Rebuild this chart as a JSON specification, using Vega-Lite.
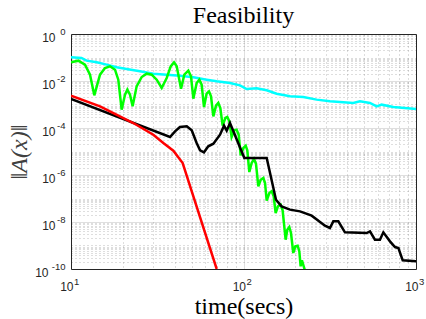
{
 "$schema": "https://vega.github.io/schema/vega-lite/v6.json",
 "width": 345,
 "height": 235,
 "autosize": {"type": "none"},
 "padding": {"left": 71, "top": 34, "right": 10, "bottom": 50},
 "background": "white",
 "title": {"text": "Feasibility", "font": "Liberation Serif", "fontSize": 24, "fontWeight": "normal", "color": "#000000", "baseline": "bottom", "offset": 4, "dy": 30, "anchor": "middle"},
 "config": {"view": {"stroke": "#262626", "strokeWidth": 1}},
 "datasets": {
  "pts": [
   {"s":"c","t":10,"v":0.1016},{"s":"c","t":11.5,"v":0.0953},{"s":"c","t":12.3,"v":0.0733},{"s":"c","t":14.1,"v":0.0623},{"s":"c","t":16.1,"v":0.0496},{"s":"c","t":18.4,"v":0.0382},{"s":"c","t":21.0,"v":0.0324},{"s":"c","t":25.1,"v":0.0258},{"s":"c","t":30.0,"v":0.0205},{"s":"c","t":35.9,"v":0.0186},{"s":"c","t":42.8,"v":0.0169},{"s":"c","t":51.2,"v":0.0143},{"s":"c","t":61.1,"v":0.0114},{"s":"c","t":69.9,"v":0.00968},{"s":"c","t":83.5,"v":0.00822},{"s":"c","t":95.4,"v":0.00654},{"s":"c","t":104.3,"v":0.00457},{"s":"c","t":119.2,"v":0.00488},{"s":"c","t":136.3,"v":0.00401},{"s":"c","t":155.6,"v":0.00289},{"s":"c","t":186,"v":0.00223},{"s":"c","t":222.4,"v":0.00209},{"s":"c","t":265.5,"v":0.00161},{"s":"c","t":317,"v":0.00136},{"s":"c","t":379,"v":0.00124},{"s":"c","t":433,"v":0.00116},{"s":"c","t":473,"v":0.00136},{"s":"c","t":541,"v":0.00116},{"s":"c","t":591,"v":0.000836},{"s":"c","t":632,"v":0.000984},{"s":"c","t":739,"v":0.000783},{"s":"c","t":1000,"v":0.000644},
   {"s":"g","t":10,"v":0.0623},{"s":"g","t":11.03,"v":0.0733},{"s":"g","t":12.05,"v":0.0496},{"s":"g","t":12.89,"v":0.0186},{"s":"g","t":13.65,"v":0.00245},{"s":"g","t":14.73,"v":0.0186},{"s":"g","t":15.74,"v":0.0357},{"s":"g","t":16.83,"v":0.0421},{"s":"g","t":17.99,"v":0.0303},{"s":"g","t":18.8,"v":0.0114},{"s":"g","t":19.66,"v":0.000603},{"s":"g","t":20.56,"v":0.00262},{"s":"g","t":21.22,"v":0.00428},{"s":"g","t":21.98,"v":0.00262},{"s":"g","t":22.76,"v":0.000836},{"s":"g","t":24.02,"v":0.00593},{"s":"g","t":25.69,"v":0.0148},{"s":"g","t":27.46,"v":0.0205},{"s":"g","t":29.36,"v":0.0186},{"s":"g","t":31.39,"v":0.0114},{"s":"g","t":33.55,"v":0.00504},{"s":"g","t":35.87,"v":0.0134},{"s":"g","t":37.84,"v":0.0421},{"s":"g","t":39.55,"v":0.0623},{"s":"g","t":41.0,"v":0.0421},{"s":"g","t":43.44,"v":0.00472},{"s":"g","t":45.39,"v":0.0186},{"s":"g","t":47.88,"v":0.0275},{"s":"g","t":49.62,"v":0.0158},{"s":"g","t":51.2,"v":0.00177},{"s":"g","t":53.53,"v":0.00822},{"s":"g","t":55.46,"v":0.0114},{"s":"g","t":57.2,"v":0.00698},{"s":"g","t":59.02,"v":0.000783},{"s":"g","t":61.11,"v":0.00289},{"s":"g","t":63.1,"v":0.00363},{"s":"g","t":64.83,"v":0.00223},{"s":"g","t":66.86,"v":0.000313},{"s":"g","t":69.27,"v":0.000891},{"s":"g","t":71.45,"v":0.00116},{"s":"g","t":73.41,"v":0.00071},{"s":"g","t":75.69,"v":0.000126},{"s":"g","t":78.49,"v":0.000267},{"s":"g","t":80.57,"v":0.000294},{"s":"g","t":82.78,"v":0.000192},{"s":"g","t":85.32,"v":4.14e-5},{"s":"g","t":88.47,"v":7.96e-5},{"s":"g","t":91.24,"v":8.49e-5},{"s":"g","t":93.76,"v":5.2e-5},{"s":"g","t":96.35,"v":6.87e-6},{"s":"g","t":99.8,"v":1.41e-5},{"s":"g","t":103,"v":1.77e-5},{"s":"g","t":105.2,"v":1.12e-5},{"s":"g","t":108.1,"v":1.34e-6},{"s":"g","t":111.5,"v":3.24e-6},{"s":"g","t":115,"v":4.8e-6},{"s":"g","t":118.1,"v":3.03e-6},{"s":"g","t":121.9,"v":3.3e-7},{"s":"g","t":125.8,"v":6.3e-7},{"s":"g","t":130.3,"v":7.45e-7},{"s":"g","t":133.3,"v":4.57e-7},{"s":"g","t":136.3,"v":8.1e-8},{"s":"g","t":141.2,"v":1.71e-7},{"s":"g","t":145.7,"v":2.02e-7},{"s":"g","t":149.6,"v":1.24e-7},{"s":"g","t":153.6,"v":2.42e-8},{"s":"g","t":158.4,"v":4.64e-8},{"s":"g","t":164.2,"v":5.47e-8},{"s":"g","t":168.6,"v":3.13e-8},{"s":"g","t":175.5,"v":1.77e-9},{"s":"g","t":179.5,"v":4.72e-9},{"s":"g","t":184.3,"v":6.12e-9},{"s":"g","t":188.5,"v":3.4e-9},{"s":"g","t":194.4,"v":4.8e-10},{"s":"g","t":199.7,"v":9.2e-10},{"s":"g","t":206,"v":9.8e-10},{"s":"g","t":210.7,"v":5.6e-10},{"s":"g","t":214.4,"v":1.3e-10},{"s":"g","t":218.2,"v":2.34e-10},{"s":"g","t":226.3,"v":9.4e-11},
   {"s":"k","t":10,"v":0.00171},{"s":"k","t":37.5,"v":4.14e-5},{"s":"k","t":40.1,"v":7.2e-5},{"s":"k","t":42.8,"v":1.1e-4},{"s":"k","t":46.9,"v":1.18e-4},{"s":"k","t":50.1,"v":7.96e-5},{"s":"k","t":53.5,"v":2.3e-5},{"s":"k","t":56.0,"v":1.12e-5},{"s":"k","t":59.0,"v":9.2e-6},{"s":"k","t":62.5,"v":1.66e-5},{"s":"k","t":66.9,"v":2.15e-5},{"s":"k","t":73.1,"v":5.2e-5},{"s":"k","t":77.1,"v":1.26e-4},{"s":"k","t":79.9,"v":7.7e-5},{"s":"k","t":83.5,"v":1.63e-4},{"s":"k","t":101.1,"v":5.29e-6},{"s":"k","t":136.3,"v":5.29e-6},{"s":"k","t":154.3,"v":8.9e-8},{"s":"k","t":166.3,"v":4.64e-8},{"s":"k","t":186,"v":3.35e-8},{"s":"k","t":212.6,"v":2.84e-8},{"s":"k","t":248.5,"v":1.86e-8},{"s":"k","t":296.7,"v":6.98e-9},{"s":"k","t":316.9,"v":5.56e-9},{"s":"k","t":331.6,"v":1.07e-8},{"s":"k","t":354.6,"v":1.07e-8},{"s":"k","t":387.3,"v":3.63e-9},{"s":"k","t":517.4,"v":3.4e-9},{"s":"k","t":541,"v":4.0e-9},{"s":"k","t":578,"v":1.77e-9},{"s":"k","t":618,"v":1.77e-9},{"s":"k","t":646.6,"v":3.63e-9},{"s":"k","t":706.6,"v":1.5e-9},{"s":"k","t":755.5,"v":8.6e-10},{"s":"k","t":790.4,"v":7.8e-10},{"s":"k","t":837.6,"v":2.34e-10},{"s":"k","t":1000,"v":2.12e-10},
   {"s":"r","t":10,"v":0.00238},{"s":"r","t":14.73,"v":0.000836},{"s":"r","t":22.97,"v":0.000163},{"s":"r","t":30.0,"v":5.2e-5},{"s":"r","t":34.3,"v":2.3e-5},{"s":"r","t":39.2,"v":1.08e-5},{"s":"r","t":44.4,"v":3.24e-6},{"s":"r","t":69.9,"v":1e-10}
  ]
 },
 "data": {"name": "pts"},
 "resolve": {"axis": {"x": "independent", "y": "independent"}},
 "layer": [
  {"transform": [{"filter": "datum.s == 'c'"}], "mark": {"type": "line", "color": "#00ffff", "strokeWidth": 2.5, "clip": true},
   "encoding": {
    "x": {"field": "t", "type": "quantitative", "scale": {"type": "log", "domain": [10, 1000], "nice": false},
     "axis": {
      "orient": "bottom",
      "values": [10,20,30,40,50,60,70,80,90,100,200,300,400,500,600,700,800,900,1000],
      "title": "time(secs)", "titleFont": "Liberation Serif", "titleFontSize": 24, "titleFontWeight": "normal", "titleColor": "#000000", "titleBaseline": "alphabetic", "titleY": 44, "titleX": 172.5, "titleAlign": "center",
      "labelExpr": "abs(log(datum.value)/LN10 - round(log(datum.value)/LN10)) > 0.001 ? '' : '10'",
      "labelFont": "Liberation Sans", "labelFontSize": 12, "labelColor": "#262626", "labelBaseline": "alphabetic", "labelAlign": "right", "labelOffset": 2, "labelPadding": 21, "labelFlush": false, "labelOverlap": false, "labelBound": false,
      "domain": false, "ticks": false, "grid": true, "gridColor": "#262626",
      "gridOpacity": {"condition": {"test": "abs(log(datum.value)/LN10 - round(log(datum.value)/LN10)) < 0.001", "value": 0.15}, "value": 0.3},
      "gridDash": {"condition": {"test": "abs(log(datum.value)/LN10 - round(log(datum.value)/LN10)) < 0.001", "value": []}, "value": [1, 3]}
     }},
    "y": {"field": "v", "type": "quantitative", "scale": {"type": "log", "domain": [1e-10, 1], "nice": false},
     "axis": {
      "orient": "left",
      "values": [1e-10,2e-10,3e-10,4e-10,5e-10,6e-10,7e-10,8e-10,9e-10,1e-9,2e-9,3e-9,4e-9,5e-9,6e-9,7e-9,8e-9,9e-9,1e-8,2e-8,3e-8,4e-8,5e-8,6e-8,7e-8,8e-8,9e-8,1e-7,2e-7,3e-7,4e-7,5e-7,6e-7,7e-7,8e-7,9e-7,1e-6,2e-6,3e-6,4e-6,5e-6,6e-6,7e-6,8e-6,9e-6,1e-5,2e-5,3e-5,4e-5,5e-5,6e-5,7e-5,8e-5,9e-5,1e-4,2e-4,3e-4,4e-4,5e-4,6e-4,7e-4,8e-4,9e-4,1e-3,2e-3,3e-3,4e-3,5e-3,6e-3,7e-3,8e-3,9e-3,1e-2,2e-2,3e-2,4e-2,5e-2,6e-2,7e-2,8e-2,9e-2,0.1,0.2,0.3,0.4,0.5,0.6,0.7,0.8,0.9,1],
      "title": "‖A(x)‖", "titleFont": "Liberation Serif", "titleFontSize": 24, "titleFontWeight": "normal", "titleFontStyle": "italic", "titleColor": "#404040", "titleBaseline": "alphabetic", "titleX": -45, "titleY": 117.5, "titleAlign": "center", "titleAngle": -90,
      "labelExpr": "abs(log(datum.value)/LN10 - round(log(datum.value)/LN10)) > 0.001 || round(log(datum.value)/LN10) % 2 != 0 ? '' : '10'",
      "labelFont": "Liberation Sans", "labelFontSize": 12, "labelColor": "#262626", "labelBaseline": "middle", "labelAlign": "right", "labelOffset": 3,
      "labelPadding": {"condition": {"test": "datum.value < 5e-10", "value": 23}, "value": 16},
      "labelFlush": false, "labelOverlap": false, "labelBound": false,
      "domain": false, "ticks": false, "grid": true, "gridColor": "#262626",
      "gridOpacity": {"condition": {"test": "abs(log(datum.value)/LN10 - round(log(datum.value)/LN10)) < 0.001 && round(log(datum.value)/LN10) % 2 == 0", "value": 0.15}, "value": 0.3},
      "gridDash": {"condition": {"test": "abs(log(datum.value)/LN10 - round(log(datum.value)/LN10)) < 0.001 && round(log(datum.value)/LN10) % 2 == 0", "value": []}, "value": [1, 3]}
     }}
   }},
  {"transform": [{"filter": "datum.s == 'g'"}], "mark": {"type": "line", "color": "#00ff00", "strokeWidth": 2.5, "clip": true},
   "encoding": {
    "x": {"field": "t", "type": "quantitative",
     "axis": {"orient": "top", "offset": -235, "values": [10, 100, 1000], "title": null, "grid": false, "domain": false, "ticks": false,
      "labelExpr": "'' + round(log(datum.value)/LN10)",
      "labelFont": "Liberation Sans", "labelFontSize": 9.5, "labelColor": "#262626", "labelBaseline": "alphabetic", "labelAlign": "left", "labelOffset": 2.5, "labelPadding": -15, "labelFlush": false, "labelOverlap": false, "labelBound": false}},
    "y": {"field": "v", "type": "quantitative",
     "axis": {"orient": "right", "offset": -345, "values": [1e-10, 1e-8, 1e-6, 1e-4, 1e-2, 1], "title": null, "grid": false, "domain": false, "ticks": false,
      "labelExpr": "'' + round(log(datum.value)/LN10)",
      "labelFont": "Liberation Sans", "labelFontSize": 9.5, "labelColor": "#262626", "labelBaseline": "middle", "labelAlign": "right", "labelOffset": -3, "labelPadding": -6, "labelFlush": false, "labelOverlap": false, "labelBound": false}}
   }},
  {"transform": [{"filter": "datum.s == 'k'"}], "mark": {"type": "line", "color": "#000000", "strokeWidth": 2.5, "clip": true},
   "encoding": {"x": {"field": "t", "type": "quantitative", "axis": null}, "y": {"field": "v", "type": "quantitative", "axis": null}}},
  {"transform": [{"filter": "datum.s == 'r'"}], "mark": {"type": "line", "color": "#ff0000", "strokeWidth": 2.5, "clip": true},
   "encoding": {"x": {"field": "t", "type": "quantitative", "axis": null}, "y": {"field": "v", "type": "quantitative", "axis": null}}}
 ]
}
